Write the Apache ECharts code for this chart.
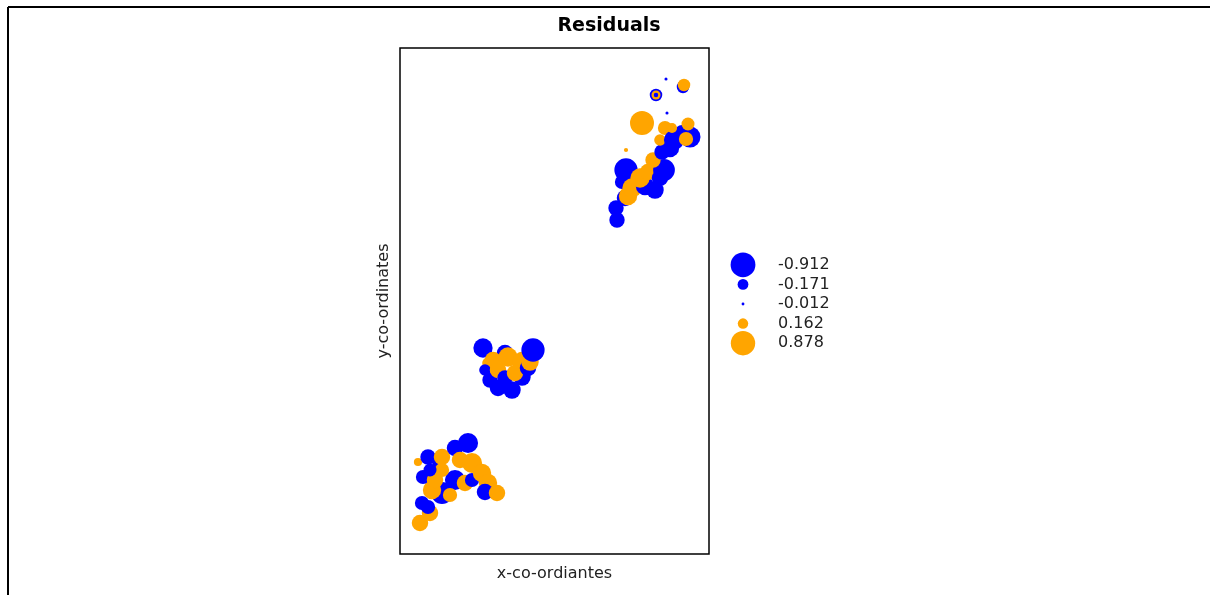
<!DOCTYPE html>
<html>
<head>
<meta charset="utf-8">
<script src="https://cdn.jsdelivr.net/npm/echarts@6/dist/echarts.min.js"></script>
<style>
html,body{margin:0;padding:0;background:#fff;}
#main{width:1210px;height:595px;}
</style>
</head>
<body>
<div id="main"></div>
<script>
// x, y coordinates (arbitrary plot units) and residuals
const xs = [217,216,225,222,226,228,232,245,255,240,248,260,264,253,262,270,260,265,274,282,290,286,272,288,242,267,226,283,284,256,256,256,266,
            83,98,112,90,122,105,93,108,123,88,85,98,105,115,128,130,133,
            20,30,22,28,42,32,23,35,55,18,28,38,42,55,68,42,60,72,65,72,82,88,85,97,50,30];
const ys = [334,346,356,372,384,358,366,368,364,376,382,376,384,394,402,406,414,426,414,422,417,415,426,430,431,441,404,467,469,459,459,459,475,
            206,166,164,174,177,201,194,197,192,191,184,184,176,181,186,192,204,
            31,41,51,47,61,64,77,74,74,92,97,91,97,106,111,84,94,91,71,74,81,71,62,61,59,84];
const res = [-0.35,-0.35,-0.40,-0.30,-0.80,0.50,0.55,-0.50,-0.45,0.55,0.40,-0.40,-0.70,0.35,-0.35,-0.50,0.20,0.30,-0.60,-0.30,-0.65,0.30,0.15,0.25,0.85,-0.014,0.026,-0.23,0.23,-0.23,0.12,-0.03,-0.014,
             -0.55,-0.40,-0.45,-0.35,-0.45,-0.40,0.40,0.55,0.65,0.20,-0.20,0.40,-0.35,0.40,-0.40,0.45,-0.80,
             0.40,0.40,-0.30,-0.30,-0.70,0.50,-0.30,0.40,-0.60,0.10,-0.35,-0.20,0.40,-0.40,-0.60,0.30,0.40,0.60,0.40,-0.30,0.50,0.50,-0.40,0.40,0.30,-0.25];
const legendValues = [-0.912, -0.171, -0.012, 0.162, 0.878];
const legendLabels = ['-0.912', '-0.171', '-0.012', '0.162', '0.878'];

const BLUE = '#0000FF', ORANGE = '#FFA500';
const sizeOf = r => 26 * Math.sqrt(Math.abs(r));
const colorOf = r => r < 0 ? BLUE : ORANGE;

const pts = xs.map((x, i) => ({ value: [x, ys[i], res[i]], itemStyle: { color: colorOf(res[i]) } }));
const legPts = legendValues.map((v, i) => ({ value: [0.5, i, v], itemStyle: { color: colorOf(v) } }));

const chart = echarts.init(document.getElementById('main'));
const FONT = 'DejaVu Sans';
chart.setOption({
  animation: false,
  backgroundColor: '#fff',
  title: {
    text: 'Residuals', left: 604, top: 12, textAlign: 'center',
    textStyle: { fontFamily: FONT, fontSize: 19, fontWeight: 'bold', color: '#000' }
  },
  graphic: [
    { type: 'line', shape: { x1: 8, y1: 7, x2: 1210, y2: 7 }, style: { stroke: '#000', lineWidth: 2 } },
    { type: 'line', shape: { x1: 8, y1: 7, x2: 8, y2: 595 }, style: { stroke: '#000', lineWidth: 2 } }
  ],
  grid: [
    { left: 400, top: 48, width: 309, height: 506, show: true, borderColor: '#000', borderWidth: 1.5, backgroundColor: 'transparent' },
    { left: 731, top: 255, width: 24, height: 98, show: false }
  ],
  xAxis: [
    { type: 'value', gridIndex: 0, min: 0, max: 309, name: 'x-co-ordiantes', nameLocation: 'middle', nameGap: 12,
      nameTextStyle: { fontFamily: FONT, fontSize: 16, color: '#222' },
      axisLine: { show: false }, axisTick: { show: false }, axisLabel: { show: false }, splitLine: { show: false } },
    { type: 'value', gridIndex: 1, min: 0, max: 1, show: false }
  ],
  yAxis: [
    { type: 'value', gridIndex: 0, min: 0, max: 506, name: 'y-co-ordinates', nameLocation: 'middle', nameGap: 8,
      nameTextStyle: { fontFamily: FONT, fontSize: 16, color: '#222' },
      axisLine: { show: false }, axisTick: { show: false }, axisLabel: { show: false }, splitLine: { show: false } },
    { type: 'category', gridIndex: 1, data: legendLabels, inverse: true, position: 'right',
      axisLine: { show: false }, axisTick: { show: false }, splitLine: { show: false },
      axisLabel: { interval: 0, margin: 23, align: 'left', fontFamily: FONT, fontSize: 16, color: '#222' } }
  ],
  series: [
    { type: 'scatter', xAxisIndex: 0, yAxisIndex: 0, data: pts,
      symbolSize: v => sizeOf(v[2]), itemStyle: { opacity: 1 }, silent: true },
    { type: 'scatter', xAxisIndex: 1, yAxisIndex: 1, data: legPts,
      symbolSize: v => sizeOf(v[2]), itemStyle: { opacity: 1 }, silent: true }
  ]
});
</script>
</body>
</html>
